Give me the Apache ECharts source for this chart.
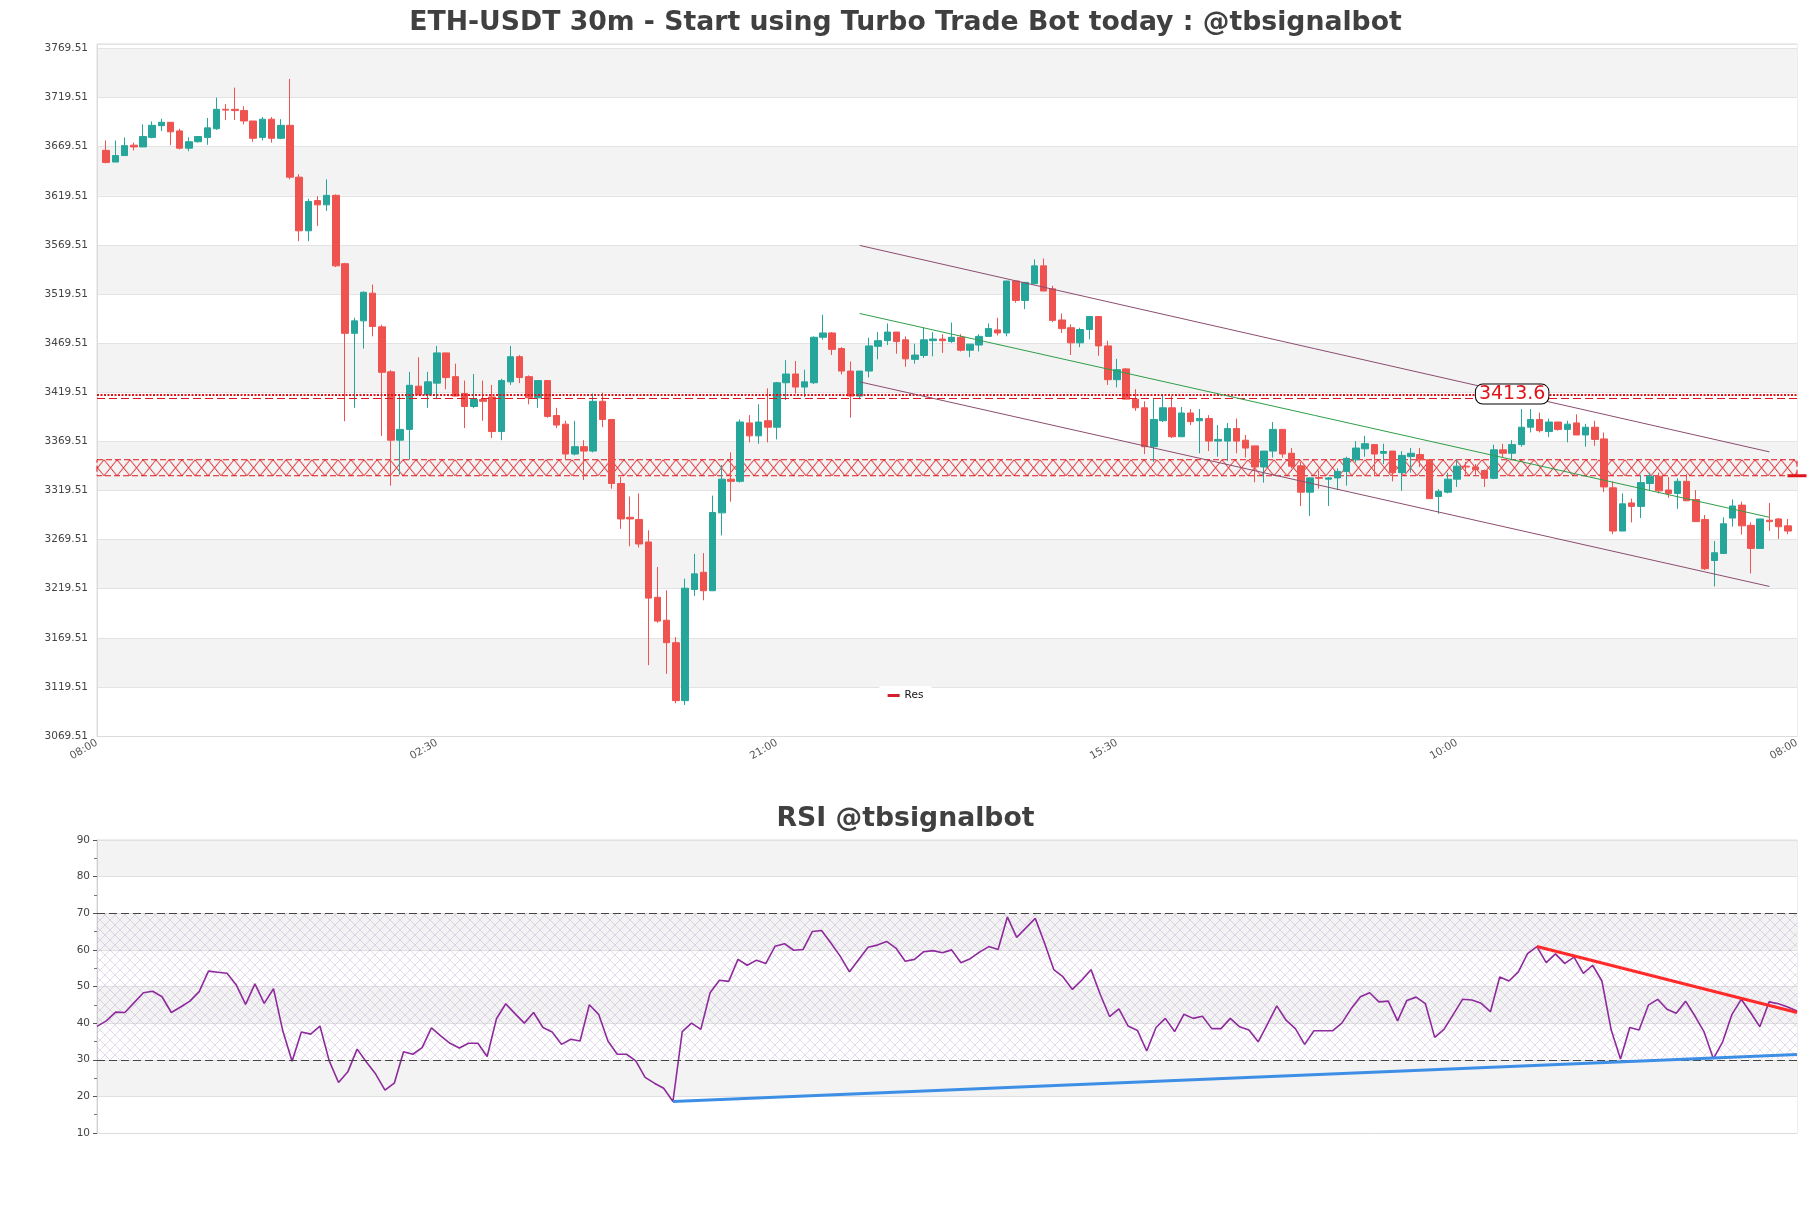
<!DOCTYPE html>
<html><head><meta charset="utf-8">
<script src="https://cdn.jsdelivr.net/npm/echarts@6/dist/echarts.min.js"></script>
<style>html,body{margin:0;padding:0;background:#fff}#c{width:1811px;height:1208px}</style>
</head><body><div id="c"></div>
<script>
// ---- price candles (30m) ----
const opens = [3665.8,3653.9,3660.5,3671.1,3669.3,3679.0,3690.9,3694.4,3685.6,3668.0,3674.6,3679.0,3687.8,3707.6,3707.6,3706.3,3695.7,3679.0,3697.5,3678.1,
3691.3,3638.5,3583.9,3614.7,3610.3,3620.0,3550.4,3479.5,3492.2,3520.4,3486.1,3440.3,3370.7,3381.7,3425.7,3416.9,3428.8,3459.6,3435.4,3418.2,
3405.0,3412.1,3414.7,3379.5,3430.1,3455.7,3435.4,3413.8,3431.4,3395.8,3387.0,3356.6,3364.1,3359.6,3410.3,3391.8,3326.6,3292.2,3290.0,3267.1,
3210.7,3187.4,3164.5,3105.5,3218.7,3236.2,3217.4,3296.7,3331.0,3328.8,3388.3,3375.1,3390.5,3383.9,3429.2,3438.1,3424.8,3429.2,3475.5,3479.9,
3464.0,3441.1,3415.6,3441.1,3466.3,3472.0,3480.8,3472.9,3453.0,3457.0,3472.0,3473.7,3471.1,3475.5,3462.3,3467.6,3476.4,3483.0,3479.9,3532.8,
3513.0,3530.1,3548.2,3524.8,3493.1,3485.2,3469.8,3483.4,3496.6,3466.7,3432.3,3443.3,3412.5,3403.7,3364.1,3390.5,3403.7,3374.2,3398.4,3390.5,
3392.7,3369.8,3369.8,3382.5,3370.7,3364.9,3343.4,3359.6,3381.7,3357.4,3344.6,3317.8,3332.7,3331.0,3332.3,3338.9,3350.8,3361.9,3366.2,3357.4,
3359.6,3337.6,3354.0,3356.1,3350.8,3313.4,3317.8,3331.0,3344.2,3343.4,3339.8,3331.9,3360.9,3357.4,3366.2,3383.9,3391.8,3379.5,3389.2,3381.7,
3388.3,3376.0,3383.9,3372.0,3322.2,3278.2,3306.8,3303.3,3326.6,3334.1,3320.0,3316.5,3328.8,3310.3,3290.0,3248.2,3255.3,3291.4,3304.6,3284.0,
3260.5,3289.2,3290.5,3283.5];
const closes = [3653.5,3660.5,3670.6,3669.3,3679.9,3691.3,3694.4,3684.7,3668.0,3674.6,3679.9,3688.7,3707.6,3706.8,3706.3,3695.7,3678.1,3697.5,3678.1,3691.3,
3638.5,3583.9,3613.8,3610.3,3620.0,3548.2,3479.5,3492.2,3521.3,3486.5,3439.8,3370.7,3381.7,3426.6,3416.9,3430.1,3459.6,3434.5,3415.6,3405.0,
3412.1,3410.3,3379.5,3431.4,3455.7,3434.5,3413.8,3431.4,3394.9,3386.1,3356.6,3364.1,3359.6,3410.3,3391.8,3326.6,3290.5,3290.5,3265.0,3209.9,
3186.5,3164.5,3105.5,3220.0,3234.6,3217.4,3297.1,3331.0,3328.8,3389.2,3375.1,3389.2,3383.9,3429.2,3438.1,3424.8,3430.1,3475.5,3479.9,3463.2,
3441.1,3415.6,3441.1,3466.7,3472.0,3480.8,3471.1,3453.5,3457.4,3472.9,3473.7,3472.0,3475.5,3462.3,3468.5,3476.4,3484.3,3479.9,3532.8,3513.0,
3531.4,3548.2,3522.6,3492.7,3484.3,3469.8,3483.4,3496.6,3466.7,3432.3,3442.5,3412.5,3403.7,3364.1,3391.8,3403.7,3374.2,3398.4,3389.6,3392.7,
3369.8,3371.5,3382.5,3369.8,3362.7,3343.4,3359.6,3381.7,3356.6,3344.2,3317.8,3332.3,3331.9,3332.3,3338.9,3352.2,3362.7,3367.1,3356.6,3359.2,
3337.6,3355.2,3357.4,3350.8,3311.2,3318.7,3331.0,3344.2,3343.4,3340.7,3331.9,3360.9,3357.4,3366.2,3383.9,3391.8,3380.4,3389.2,3381.7,3387.0,
3376.0,3383.9,3371.5,3323.1,3278.2,3305.9,3303.3,3327.5,3334.1,3319.1,3316.5,3328.8,3309.0,3287.8,3239.8,3256.1,3285.6,3303.7,3283.5,3260.5,
3290.5,3287.8,3282.6,3278.2];
const lows = [3652.6,3653.9,3660.5,3665.8,3669.3,3678.1,3685.6,3671.1,3666.7,3664.9,3673.7,3671.5,3686.5,3696.6,3696.6,3692.2,3674.6,3675.9,3673.7,3677.2,
3636.3,3573.3,3573.3,3588.7,3604.1,3546.9,3390.0,3403.7,3464.0,3476.4,3375.1,3324.4,3335.4,3350.8,3416.9,3403.7,3412.5,3422.6,3415.6,3383.0,
3403.2,3390.5,3372.9,3370.7,3427.0,3428.8,3407.2,3403.7,3393.6,3383.0,3350.8,3355.2,3330.1,3358.3,3383.9,3321.3,3280.4,3262.7,3261.4,3141.6,
3184.8,3132.8,3102.8,3101.1,3212.1,3207.7,3217.4,3273.8,3308.1,3327.5,3368.5,3367.1,3368.5,3371.5,3411.6,3418.2,3414.7,3427.9,3472.9,3457.4,
3437.6,3393.6,3412.5,3434.5,3453.0,3467.6,3458.8,3445.5,3448.6,3454.4,3456.1,3459.6,3469.8,3461.0,3455.2,3461.0,3476.4,3477.3,3476.4,3510.7,
3504.1,3529.2,3522.6,3490.9,3479.9,3457.4,3465.4,3473.3,3456.6,3427.0,3424.4,3412.5,3400.6,3356.6,3348.6,3389.2,3372.9,3374.2,3386.1,3357.4,
3359.6,3353.9,3349.5,3357.4,3353.0,3327.9,3327.5,3353.0,3353.0,3342.0,3303.7,3293.6,3321.3,3303.7,3320.0,3324.4,3347.8,3353.9,3334.5,3346.4,
3328.8,3319.1,3337.6,3343.4,3311.2,3295.8,3316.5,3323.1,3335.4,3335.4,3323.1,3331.0,3353.0,3350.8,3364.1,3378.6,3378.6,3373.8,3380.4,3368.5,
3376.0,3364.1,3364.9,3317.8,3275.1,3278.2,3287.0,3291.4,3320.0,3316.5,3312.1,3300.8,3309.0,3287.8,3238.5,3221.8,3255.3,3282.6,3274.6,3235.0,
3260.5,3278.2,3270.2,3275.1];
const highs = [3675.9,3675.9,3679.0,3673.7,3692.2,3695.3,3698.0,3694.4,3687.8,3679.0,3679.9,3698.8,3719.5,3712.9,3729.7,3710.7,3695.7,3699.7,3699.7,3697.5,
3738.5,3641.6,3616.5,3619.1,3636.3,3620.9,3551.3,3495.3,3522.2,3529.2,3488.3,3442.0,3417.8,3440.3,3455.2,3440.3,3466.7,3459.6,3448.6,3431.4,
3438.1,3431.4,3427.0,3433.2,3466.7,3457.4,3436.7,3431.4,3431.4,3403.7,3390.5,3390.5,3370.7,3418.2,3419.1,3391.8,3333.2,3313.4,3316.5,3279.0,
3241.6,3217.8,3170.2,3229.7,3254.9,3255.7,3314.3,3345.5,3358.3,3391.8,3396.2,3407.2,3423.5,3430.1,3452.2,3451.3,3442.5,3476.4,3498.4,3480.8,
3465.4,3450.8,3441.1,3475.1,3480.8,3489.6,3480.8,3476.4,3468.9,3485.2,3480.8,3478.6,3490.5,3478.6,3468.5,3478.6,3489.6,3495.3,3532.8,3532.8,
3531.4,3554.8,3555.7,3527.9,3499.7,3488.7,3485.2,3496.6,3496.6,3472.0,3453.5,3444.2,3422.6,3410.3,3412.5,3416.9,3415.6,3404.6,3402.4,3402.4,
3396.2,3386.1,3388.3,3392.7,3376.0,3364.9,3359.6,3389.2,3381.7,3362.7,3348.6,3333.2,3339.8,3333.2,3342.0,3353.9,3369.8,3375.1,3366.2,3367.1,
3359.6,3359.6,3362.7,3362.7,3350.8,3320.9,3337.6,3350.8,3348.6,3346.4,3340.7,3366.2,3367.1,3370.7,3402.4,3402.4,3398.8,3392.7,3389.2,3390.5,
3397.1,3387.4,3390.5,3378.6,3328.8,3316.5,3311.2,3335.4,3337.6,3337.6,3333.2,3331.9,3336.3,3320.0,3294.5,3268.0,3292.2,3310.3,3308.1,3287.0,
3290.5,3306.8,3291.4,3290.5];

// ---- RSI ----
const rsiValues = [39.1,40.6,43.0,42.9,45.6,48.3,48.7,47.2,42.9,44.4,46.0,48.6,54.2,53.9,53.6,50.4,45.1,50.7,45.4,49.4,
37.9,29.6,37.6,37.0,39.2,29.7,23.8,26.7,32.9,29.4,26.1,21.7,23.6,32.2,31.5,33.3,38.7,36.5,34.5,33.2,
34.5,34.5,30.9,41.2,45.3,42.6,40.0,42.9,38.8,37.6,34.2,35.6,35.1,45.0,42.4,35.1,31.5,31.5,29.7,25.2,
23.6,22.2,18.6,37.7,40.0,38.3,48.3,51.7,51.4,57.4,55.8,57.2,56.3,61.0,61.7,59.9,60.1,65.0,65.3,61.9,
58.3,54.0,57.4,60.7,61.3,62.3,60.5,56.9,57.4,59.5,59.8,59.2,60.0,56.5,57.6,59.4,60.9,60.1,69.0,63.4,
66.0,68.6,61.9,54.6,52.6,49.2,51.7,54.6,47.8,41.8,43.9,39.2,38.0,32.4,38.8,41.3,37.7,42.4,41.3,41.9,
38.5,38.5,41.3,39.0,38.1,34.9,39.7,44.7,40.8,38.5,34.2,37.9,37.9,37.9,40.0,43.9,47.2,48.3,45.8,46.0,
40.6,46.2,47.1,45.3,36.1,38.3,42.4,46.5,46.3,45.4,43.1,52.6,51.5,54.0,59.0,60.9,56.5,58.9,56.3,58.0,
53.6,55.8,51.5,38.1,30.2,38.8,38.1,44.9,46.5,43.8,42.7,46.0,42.0,37.6,30.3,34.9,42.4,46.5,42.9,39.0,
45.8,45.3,44.4,43.3];

// ---- axis / annotation values ----
const xTickLabels = ['08:00','02:30','21:00','15:30','10:00','08:00'];
const xTickEvery = 37;
const priceMin = 3069.51, priceMax = 3774.1, priceStep = 50;
const resLevel = 3413.6, resLevelUpper = 3417.2;
const zoneLow = 3334.5, zoneHigh = 3350.8;
const channelUpper = [[82, 3569.0], [181, 3358.8]];
const channelMid   = [[82, 3499.7], [181, 3292.2]];
const channelLower = [[82, 3430.1], [181, 3221.8]];
const resLabelAt = 153;
const rsiSupport = [[62, 18.6], [183, 31.4]];
const rsiResist  = [[155, 60.9], [183, 42.9]];
const rsiLevels = [70, 30];
const rsiBand = [30, 70];

const N = opens.length;
const FONT = 'DejaVu Sans';
const UP = '#26a69a', DOWN = '#ef5350';

// candles on padded category axis (one empty slot each side)
const priceCats = Array.from({length: N + 2}, (_, i) => String(i));
const candleData = opens.map((o, i) => [i + 1, o, closes[i], lows[i], highs[i]]);
const rsiCats = rsiValues.map((_, i) => String(i));

function hatchCanvas(w, h, color, lw) {
  const c = document.createElement('canvas');
  c.width = w; c.height = h;
  const g = c.getContext('2d');
  g.strokeStyle = color; g.lineWidth = lw;
  g.beginPath();
  g.moveTo(0, 0); g.lineTo(w, h);
  g.moveTo(w, 0); g.lineTo(0, h);
  g.stroke();
  return c;
}
const zoneTile = hatchCanvas(13, 16, '#e0151b', 1);
const rsiTile = hatchCanvas(10, 10, 'rgba(175,150,195,0.45)', 0.8);

const seg = (p, q, ci, style) => [{coord: [p[0] + ci, p[1]], lineStyle: style}, {coord: [q[0] + ci, q[1]]}];

const chart = echarts.init(document.getElementById('c'), null, {renderer: 'canvas'});

function buildOption(zoneOffsetY) {
  return {
    animation: false,
    backgroundColor: '#fff',
    textStyle: {fontFamily: FONT},
    title: [
      {text: 'ETH-USDT 30m - Start using Turbo Trade Bot today : @tbsignalbot', left: 'center', top: 10, padding: 0,
       textStyle: {fontFamily: FONT, fontSize: 26.7, fontWeight: 'bold', color: '#404040'}},
      {text: 'RSI @tbsignalbot', left: 'center', top: 806, padding: 0,
       textStyle: {fontFamily: FONT, fontSize: 26.7, fontWeight: 'bold', color: '#404040'}}
    ],
    legend: {
      data: [{name: 'Res', icon: 'rect'}], left: 'center', top: 686,
      itemWidth: 12, itemHeight: 3, itemGap: 6,
      backgroundColor: '#fff', borderRadius: 5, padding: [4, 10],
      textStyle: {fontFamily: FONT, fontSize: 10.5, color: '#111'}
    },
    grid: [
      {left: 97, right: 14, top: 44, height: 692, show: true, borderColor: '#dcdcdc', borderWidth: 1, backgroundColor: 'transparent'},
      {left: 97, right: 14, top: 840, height: 293, show: true, borderColor: '#dcdcdc', borderWidth: 1, backgroundColor: 'transparent'}
    ],
    xAxis: [
      {type: 'category', gridIndex: 0, data: priceCats, boundaryGap: false,
       axisLine: {show: true, lineStyle: {color: '#dcdcdc'}}, axisTick: {show: false},
       axisLabel: {interval: (i) => i % xTickEvery === 0, rotate: 30, fontSize: 10.5, color: '#555', fontFamily: FONT, margin: 6,
         formatter: (v, i) => xTickLabels[Math.round(i / xTickEvery)] || ''},
       splitLine: {show: false}},
      {type: 'category', gridIndex: 1, data: rsiCats, boundaryGap: false,
       axisLine: {show: true, lineStyle: {color: '#dcdcdc'}}, axisTick: {show: false}, axisLabel: {show: false}, splitLine: {show: false}}
    ],
    yAxis: [
      {type: 'value', gridIndex: 0, min: priceMin, max: priceMax, interval: priceStep, scale: true,
       axisLine: {show: true, lineStyle: {color: '#dcdcdc'}}, axisTick: {show: false},
       axisLabel: {fontSize: 10.5, color: '#444', fontFamily: FONT, margin: 9, showMaxLabel: false,
         formatter: (v) => v.toFixed(2)},
       splitLine: {show: true, lineStyle: {color: '#e3e3e3', width: 1}},
       splitArea: {show: true, areaStyle: {color: ['#ffffff', '#f3f3f3']}}},
      {type: 'value', gridIndex: 1, min: 10, max: 90, interval: 10,
       axisLine: {show: true, lineStyle: {color: '#cfcfcf'}},
       axisTick: {show: true, length: 4, lineStyle: {color: '#555'}},
       minorTick: {show: true, splitNumber: 2, length: 3, lineStyle: {color: '#777'}},
       axisLabel: {fontSize: 10.5, color: '#444', fontFamily: FONT, margin: 7},
       splitLine: {show: true, lineStyle: {color: '#e0e0e0'}},
       splitArea: {show: true, areaStyle: {color: ['#ffffff', '#f3f3f3']}}}
    ],
    series: [
      {
        type: 'candlestick', name: 'ETH-USDT', xAxisIndex: 0, yAxisIndex: 0,
        data: candleData, encode: {x: 0, y: [1, 2, 3, 4]},
        barWidth: 7,
        itemStyle: {color: UP, color0: DOWN, borderColor: UP, borderColor0: DOWN, borderWidth: 1},
        markArea: {
          silent: true,
          itemStyle: {color: {image: zoneTile, repeat: 'repeat', x: 0, y: zoneOffsetY}, borderColor: '#e0151b', borderWidth: 1, borderType: [6, 3]},
          data: [[{yAxis: zoneHigh}, {yAxis: zoneLow}]]
        },
        markLine: {
          silent: true, symbol: ['none', 'none'], label: {show: false},
          data: [
            {yAxis: resLevelUpper, lineStyle: {color: '#e0151b', width: 2, type: [2, 1.5]}},
            {yAxis: resLevel, lineStyle: {color: '#e0151b', width: 1.2, type: [8, 4]}},
            seg(channelUpper[0], channelUpper[1], 1, {color: '#8c4d6f', width: 1, type: 'solid'}),
            seg(channelLower[0], channelLower[1], 1, {color: '#8c4d6f', width: 1, type: 'solid'}),
            seg(channelMid[0], channelMid[1], 1, {color: '#2f9e47', width: 1, type: 'solid'})
          ]
        },
        markPoint: {
          silent: true, symbol: 'rect', symbolSize: 1, itemStyle: {color: 'rgba(0,0,0,0)'},
          data: [
            {coord: [resLabelAt + 1, resLevel], value: resLevel},
            {coord: [N + 1, zoneLow], value: zoneLow, symbolSize: [19, 3], itemStyle: {color: '#e0151b'}, label: {show: false}}
          ],
          label: {show: true, position: 'inside', offset: [0, -4], formatter: () => resLevel.toFixed(1),
            color: '#e0151b', fontSize: 19, fontFamily: FONT, backgroundColor: '#fff',
            borderColor: '#000', borderWidth: 1, borderRadius: 7, padding: [0, 3]}
        }
      },
      {type: 'line', name: 'Res', xAxisIndex: 0, yAxisIndex: 0, data: [], color: '#d4202e', lineStyle: {color: '#d4202e'}},
      {
        type: 'line', name: 'RSI', xAxisIndex: 1, yAxisIndex: 1, data: rsiValues,
        symbol: 'none', lineStyle: {color: '#8e2a9c', width: 1.6}, itemStyle: {color: '#8e2a9c'},
        markArea: {silent: true, itemStyle: {color: {image: rsiTile, repeat: 'repeat'}},
          data: [[{yAxis: rsiBand[1]}, {yAxis: rsiBand[0]}]]},
        markLine: {
          silent: true, symbol: ['none', 'none'], label: {show: false},
          data: [
            ...rsiLevels.map(v => ({yAxis: v, lineStyle: {color: '#444', width: 1.2, type: [8, 4]}})),
            seg(rsiSupport[0], rsiSupport[1], 0, {color: '#3d8fe6', width: 3, type: 'solid'}),
            seg(rsiResist[0], rsiResist[1], 0, {color: '#ff2a2a', width: 3, type: 'solid'})
          ]
        }
      }
    ]
  };
}

chart.setOption(buildOption(0));
const zoneTopPx = chart.convertToPixel({yAxisIndex: 0}, zoneHigh);
chart.setOption(buildOption(zoneTopPx), true);
</script>
</body></html>
